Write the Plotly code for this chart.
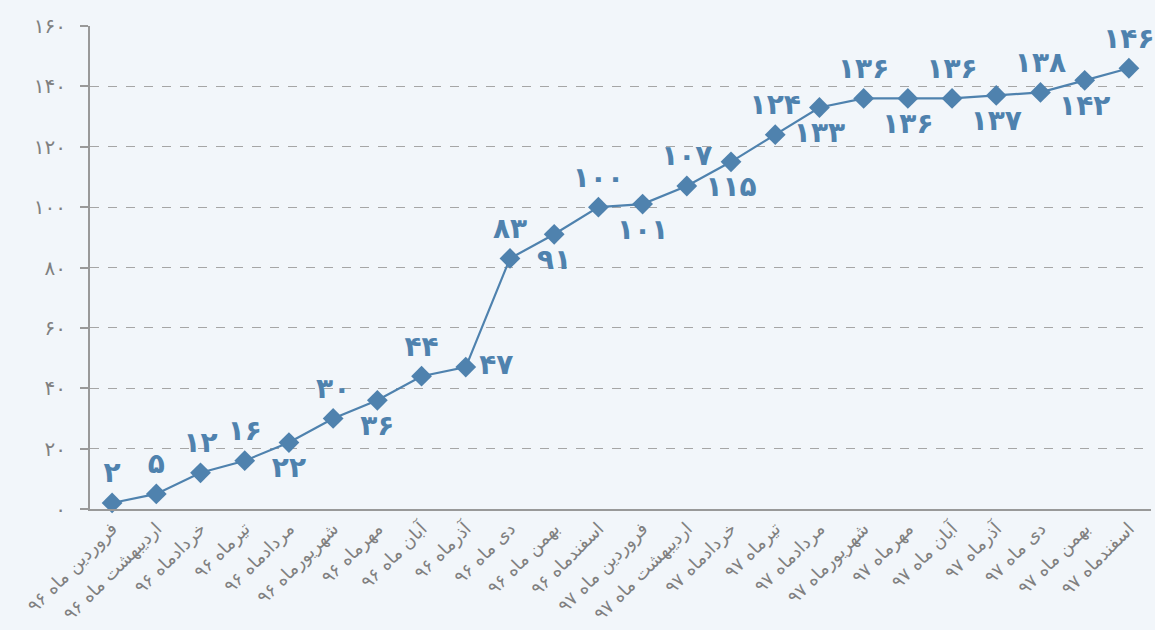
import plotly.graph_objects as go

categories = [
    "فروردین ماه ۹۶", "اردیبهشت ماه ۹۶", "خردادماه ۹۶", "تیرماه ۹۶",
    "مردادماه ۹۶", "شهریورماه ۹۶", "مهرماه ۹۶", "آبان ماه ۹۶",
    "آذرماه ۹۶", "دی ماه ۹۶", "بهمن ماه ۹۶", "اسفندماه ۹۶",
    "فروردین ماه ۹۷", "اردیبهشت ماه ۹۷", "خردادماه ۹۷", "تیرماه ۹۷",
    "مردادماه ۹۷", "شهریورماه ۹۷", "مهرماه ۹۷", "آبان ماه ۹۷",
    "آذرماه ۹۷", "دی ماه ۹۷", "بهمن ماه ۹۷", "اسفندماه ۹۷",
]
values = [2, 5, 12, 16, 22, 30, 36, 44, 47, 83, 91, 100,
          101, 107, 115, 124, 133, 136, 136, 136, 137, 138, 142, 146]
label_positions = ["top center", "top center", "top center", "top center",
                   "bottom center", "top center", "bottom center", "top center",
                   "middle right", "top center", "bottom center", "top center",
                   "bottom center", "top center", "bottom center", "top center",
                   "bottom center", "top center", "bottom center", "top center",
                   "bottom center", "top center", "bottom center", "top center"]
y_ticks = [0, 20, 40, 60, 80, 100, 120, 140, 160]

FA = str.maketrans("0123456789", "۰۱۲۳۴۵۶۷۸۹")
def fa(n):
    return str(n).translate(FA)

BLUE = "#4f82ae"
GREY = "#808080"
x = list(range(len(categories)))

fig = go.Figure()
fig.add_trace(go.Scatter(
    x=x, y=values, mode="lines+markers",
    line=dict(color=BLUE, width=2.2),
    marker=dict(symbol="diamond", size=16, color=BLUE),
    hoverinfo="skip", showlegend=False, cliponaxis=False,
))
fig.add_trace(go.Scatter(
    x=x, y=values, mode="markers+text",
    text=[fa(v) for v in values], textposition=label_positions,
    textfont=dict(family="DejaVu Sans", size=28, color=BLUE, weight="bold"),
    marker=dict(size=20, color="rgba(0,0,0,0)"),
    hoverinfo="skip", showlegend=False, cliponaxis=False,
))

fig.update_layout(
    width=1155, height=630,
    margin=dict(l=90, r=4, t=26, b=121),
    paper_bgcolor="#f2f6fa", plot_bgcolor="#f2f6fa",
    xaxis=dict(
        range=[-0.5, len(categories) - 0.5], automargin=False,
        tickmode="array", tickvals=x, ticktext=categories,
        tickangle=-45, tickfont=dict(family="DejaVu Sans", size=18, color=GREY),
        showgrid=False, zeroline=False,
        showline=True, linecolor="#999999", linewidth=2,
        ticks="",
    ),
    yaxis=dict(
        range=[0, 160], automargin=False,
        tickmode="array", tickvals=y_ticks, ticktext=[fa(v) for v in y_ticks],
        tickfont=dict(family="DejaVu Sans", size=20, color=GREY),
        showgrid=True, gridcolor="#a6a6a6", griddash="dash", gridwidth=1,
        zeroline=False,
        showline=True, linecolor="#999999", linewidth=2,
        ticks="outside", ticklen=8, tickcolor="#999999", tickwidth=2,
        ticklabelstandoff=10,
    ),
)

fig.write_html(
    "out.html",
    config={"displayModeBar": False},
    post_script="document.body.style.margin='0px';document.body.style.overflow='hidden';",
)
